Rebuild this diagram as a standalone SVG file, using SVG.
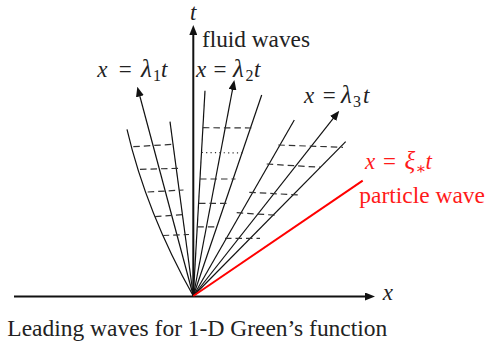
<svg xmlns="http://www.w3.org/2000/svg" width="488" height="345" viewBox="0 0 488 345">
<defs>
<marker id="ah" markerWidth="10" markerHeight="8" refX="5" refY="4" orient="auto" markerUnits="userSpaceOnUse">
<path d="M0,0 L10,4 L0,8 z" fill="#111"/>
</marker>
<style>
.ax{stroke:#111;stroke-width:2;fill:none}
.ln{stroke:#111;stroke-width:1.2;fill:none}
.ar{stroke:#111;stroke-width:1.2;fill:none;marker-end:url(#ah)}
.da{stroke:#333;stroke-width:1.2;stroke-dasharray:6.5 4;fill:none}
.dt{stroke:#333;stroke-width:1.2;stroke-dasharray:1.2 3.2;fill:none}
.red{stroke:#ff0000;stroke-width:2;fill:none}
.i{font-style:italic}
.sub{font-size:16px}
</style>
</defs>
<rect width="488" height="345" fill="#fff"/>
<g id="connectors">
<g id="axes">
<line class="ax" x1="14" y1="296.5" x2="370" y2="296.5" marker-end="url(#ah)"/>
<line class="ax" x1="193.3" y1="296.5" x2="193.3" y2="30" marker-end="url(#ah)"/>
</g>
<g id="fan1">
<path class="ln" d="M193.3,296 Q146.5,212.7 127,129.3"/>
<line class="ar" x1="193.3" y1="296" x2="138.6" y2="91.5"/>
<line class="ln" x1="193.3" y1="296" x2="170" y2="121.7"/>
<line class="da" x1="133.3" y1="146.7" x2="173" y2="144.3"/>
<line class="da" x1="140" y1="169.3" x2="179.5" y2="168.3"/>
<line class="da" x1="147.7" y1="192" x2="183.5" y2="190"/>
<line class="da" x1="155" y1="216.7" x2="183.5" y2="214.5"/>
<line class="da" x1="162.7" y1="235.5" x2="189" y2="234.5"/>
</g>
<g id="fan2">
<line class="ln" x1="193.3" y1="296" x2="205" y2="90.7"/>
<line class="ar" x1="193.3" y1="296" x2="233.4" y2="84.9"/>
<line class="ln" x1="193.3" y1="296" x2="261.7" y2="95"/>
<line class="da" x1="202.9" y1="127.7" x2="251.7" y2="128"/>
<line class="dt" x1="201.7" y1="152.5" x2="245" y2="153"/>
<line class="da" x1="200" y1="179" x2="235.5" y2="179"/>
<line class="da" x1="199" y1="203.3" x2="227" y2="203.3"/>
<line class="da" x1="197.3" y1="226.8" x2="216.5" y2="226.8"/>
</g>
<g id="fan3">
<line class="ln" x1="193.3" y1="296" x2="294.3" y2="120"/>
<line class="ar" x1="193.3" y1="296" x2="336.2" y2="114.6"/>
<line class="ln" x1="193.3" y1="296" x2="345.7" y2="141.7"/>
<line class="da" x1="278.3" y1="145" x2="343" y2="147.3"/>
<line class="da" x1="266.7" y1="164" x2="320.5" y2="167.3"/>
<line class="da" x1="249.3" y1="192.3" x2="299.5" y2="195"/>
<line class="da" x1="236.7" y1="212.7" x2="277" y2="215.3"/>
<line class="da" x1="225" y1="238.3" x2="260" y2="238.3"/>
</g>
<g id="particle">
<line class="red" x1="193.3" y1="296" x2="362.7" y2="180.7"/>
</g>
</g>
<g id="labels" font-family="'Liberation Serif', 'Times New Roman', 'DejaVu Serif', serif" font-size="23" fill="#222">
<g id="label-t"><text class="i" x="190" y="20">t</text></g>
<g id="label-x"><text class="i" x="382.7" y="300">x</text></g>
<g id="label-fluid"><text x="202" y="46.7" textLength="108" lengthAdjust="spacingAndGlyphs">fluid waves</text></g>
<g id="label-l1">
<text class="i" x="97.3" y="76.5">x</text>
<text x="125.3" y="76.5" text-anchor="middle">=</text>
<text class="i" x="141" y="76.5" font-size="25">λ</text>
<text class="sub" x="153" y="81">1</text>
<text class="i" x="161" y="76.5">t</text>
</g>
<g id="label-l2">
<text class="i" x="196" y="76.5">x</text>
<text x="220" y="76.5" text-anchor="middle">=</text>
<text class="i" x="233" y="76.5" font-size="25">λ</text>
<text class="sub" x="245.5" y="81">2</text>
<text class="i" x="254" y="76.5">t</text>
</g>
<g id="label-l3">
<text class="i" x="304" y="102.7">x</text>
<text x="329.2" y="102.7" text-anchor="middle">=</text>
<text class="i" x="341" y="102.7" font-size="25">λ</text>
<text class="sub" x="353" y="107.2">3</text>
<text class="i" x="363" y="102.7">t</text>
</g>
<g id="label-xi" fill="#ff1a1a">
<text class="i" x="365" y="169.3">x</text>
<text x="389.5" y="169.3" text-anchor="middle">=</text>
<text class="i" x="404.5" y="169.3" font-size="25">ξ</text>
<text class="sub" x="415.5" y="173.5">∗</text>
<text class="i" x="425.5" y="169.3">t</text>
</g>
<g id="label-particle"><text fill="#ff1a1a" x="359.3" y="203.3" textLength="125.7" lengthAdjust="spacingAndGlyphs">particle wave</text></g>
<g id="caption"><text x="7.3" y="336" textLength="380" lengthAdjust="spacingAndGlyphs">Leading waves for 1-D Green’s function</text></g>
</g>
</svg>
